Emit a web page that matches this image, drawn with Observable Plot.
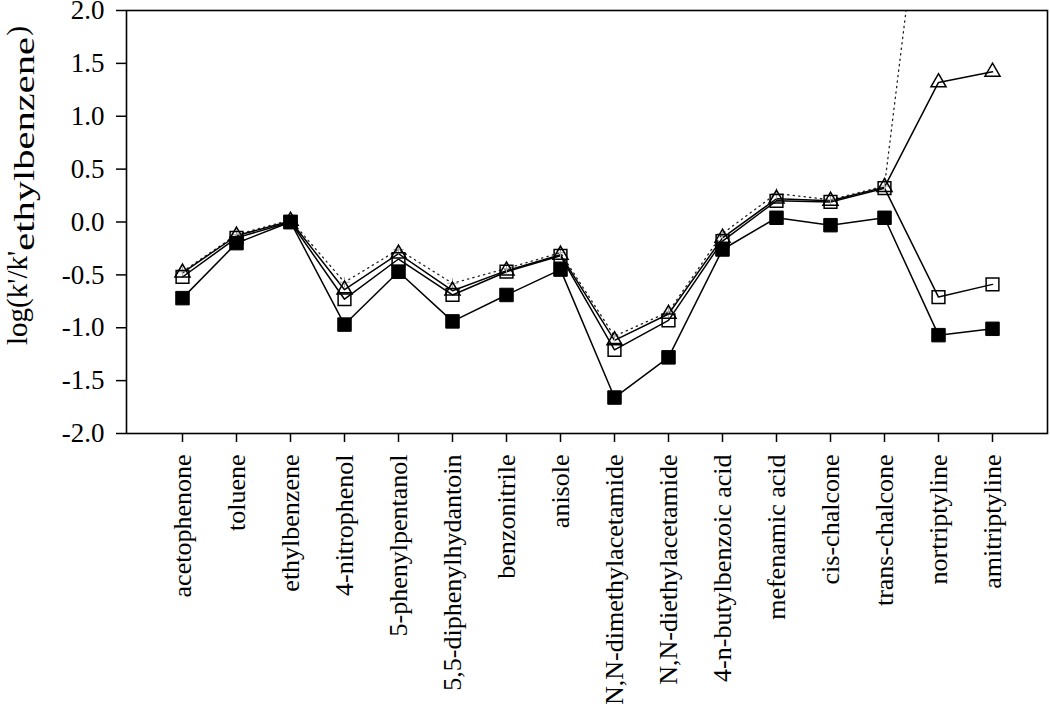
<!DOCTYPE html>
<html><head><meta charset="utf-8">
<script src="https://cdn.jsdelivr.net/npm/d3@7"></script>
<script src="https://cdn.jsdelivr.net/npm/@observablehq/plot@0.6"></script>
<style>
body{margin:0;background:#fff}
#chart svg, #chart svg text{font-family:"Liberation Serif","Times New Roman",Times,serif !important}
</style>
</head><body><div id="chart"></div>
<script>
const compounds = ["acetophenone","toluene","ethylbenzene","4-nitrophenol","5-phenylpentanol","5,5-diphenylhydantoin","benzonitrile","anisole","N,N-dimethylacetamide","N,N-diethylacetamide","4-n-butylbenzoic acid","mefenamic acid","cis-chalcone","trans-chalcone","nortriptyline","amitriptyline"];
const filledSquare = [-0.72,-0.20,0.00,-0.97,-0.47,-0.94,-0.69,-0.45,-1.66,-1.28,-0.26,0.04,-0.03,0.04,-1.07,-1.01];
const openSquare   = [-0.52,-0.15,0.00,-0.73,-0.35,-0.69,-0.47,-0.32,-1.21,-0.93,-0.18,0.20,0.19,0.32,-0.71,-0.59];
const openTriangle = [-0.48,-0.13,0.01,-0.64,-0.30,-0.65,-0.46,-0.31,-1.12,-0.87,-0.15,0.22,0.20,0.33,1.32,1.42];
const dottedSeries = [-0.47,-0.12,0.02,-0.57,-0.26,-0.58,-0.44,-0.29,-1.08,-0.85,-0.11,0.27,0.21,0.34,4.5,4.6];
const yTicks = [-2,-1.5,-1,-0.5,0,0.5,1,1.5,2];
const yLabelMain = "log(k'/k'";
const yLabelSub = "ethylbenzene";
const yLabelEnd = ")";

const rows = vals => compounds.map((c, i) => ({compound: c, value: vals[i]}));
const fsData = rows(filledSquare), osData = rows(openSquare), trData = rows(openTriangle), dtData = rows(dottedSeries);
const fmtY = d => d.toFixed(1);

const chart = Plot.plot({
  width: 1050, height: 704,
  marginTop: 10, marginBottom: 271, marginLeft: 126, marginRight: 3,
  style: {color: "black", background: "white", overflow: "visible"},
  x: {type: "point", domain: compounds, padding: 1, label: null},
  y: {domain: [-2, 2], label: null},
  marks: [
    Plot.axisY({ticks: yTicks, tickFormat: fmtY, tickSize: 10, tickPadding: 12, strokeWidth: 1.5, fontSize: 27, label: null}),
    Plot.axisX({tickRotate: -90, tickSize: 9, tickPadding: 12, strokeWidth: 1.5, fontSize: 26, label: null}),
    Plot.line(dtData, {x: "compound", y: "value", stroke: "#222", strokeWidth: 1.3, strokeDasharray: "1.3,4.2", clip: true}),
    Plot.line(trData, {x: "compound", y: "value", stroke: "black", strokeWidth: 1.5}),
    Plot.line(osData, {x: "compound", y: "value", stroke: "black", strokeWidth: 1.5}),
    Plot.line(fsData, {x: "compound", y: "value", stroke: "black", strokeWidth: 1.5}),
    Plot.dot(dtData, {x: "compound", y: "value", symbol: "plus", r: 3.5, stroke: "#aaa", strokeWidth: 1, clip: true}),
    Plot.dot(trData, {x: "compound", y: "value", symbol: "triangle", r: 5.6, stroke: "black", strokeWidth: 1.5, fill: "none"}),
    Plot.dot(osData, {x: "compound", y: "value", symbol: "square", r: 7.2, stroke: "black", strokeWidth: 1.5, fill: "none"}),
    Plot.dot(fsData, {x: "compound", y: "value", symbol: "square", r: 7.6, stroke: "black", strokeWidth: 1, fill: "black"}),
    Plot.frame({stroke: "black", strokeWidth: 1.6})
  ]
});
document.getElementById("chart").appendChild(chart);

const svg = d3.select(chart);
const serif = '"Liberation Serif","Times New Roman",Times,serif';
const yLabs = new Set(yTicks.map(fmtY));
const xLabs = new Set(compounds);
svg.selectAll("text").each(function() {
  const t = this.textContent;
  const s = d3.select(this).style("font-family", serif);
  if (yLabs.has(t)) s.attr("font-size", 27).style("font-size", "27px");
  else if (xLabs.has(t)) s.attr("font-size", 26).style("font-size", "26px");
});

const yBottom = 345;
const mainT = svg.append("text")
  .attr("text-anchor", "start")
  .attr("transform", `translate(26.5,${yBottom}) rotate(-90)`)
  .style("font-size", "29px").style("font-family", serif).attr("fill", "black")
  .text(yLabelMain);
const mainLen = mainT.node().getComputedTextLength();
const subT = svg.append("text")
  .attr("text-anchor", "start")
  .style("font-size", "30px").style("font-family", serif).attr("fill", "black")
  .text(yLabelSub);
const subNat = subT.node().getComputedTextLength();
const subTarget = 214;
const sx = subTarget / subNat;
subT.attr("transform", `translate(34,${yBottom - mainLen}) rotate(-90) scale(${sx},1)`);
svg.append("text")
  .attr("text-anchor", "start")
  .attr("transform", `translate(26.5,${yBottom - mainLen - subTarget - 1}) rotate(-90)`)
  .style("font-size", "29px").style("font-family", serif).attr("fill", "black")
  .text(yLabelEnd);
</script>
</body></html>
